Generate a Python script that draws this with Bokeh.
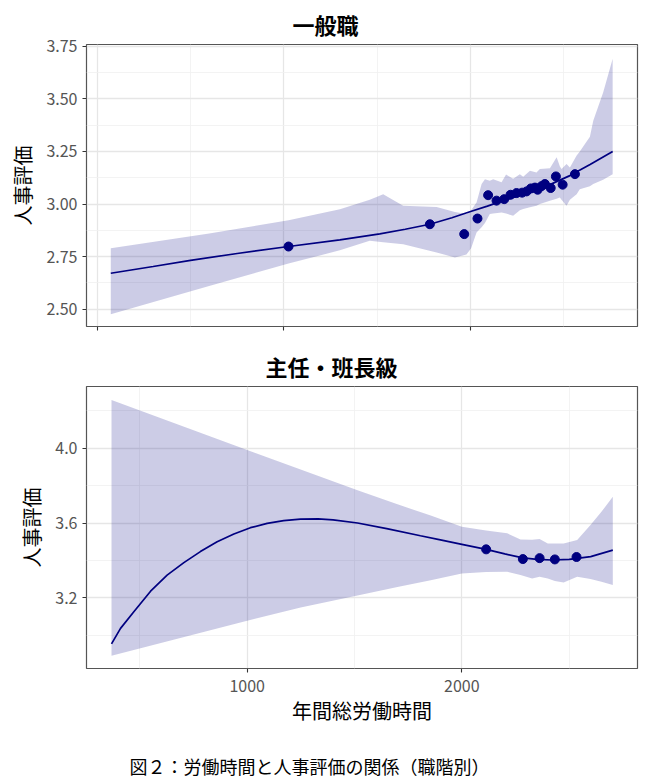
from bokeh.plotting import figure
from bokeh.models import Range1d, FixedTicker, Title, NumeralTickFormatter
from bokeh.layouts import column
from bokeh.embed import file_html
from bokeh.resources import INLINE

JP = "Noto Sans CJK JP"

# ---------------- 一般職 (top panel) ----------------
gen_hours = [1025, 1782, 1966, 2037, 2094, 2139, 2180, 2214, 2246, 2276,
             2300, 2323, 2345, 2359, 2380, 2398, 2429, 2457, 2493, 2559]
gen_score = [2.798, 2.904, 2.857, 2.931, 3.042, 3.016, 3.023, 3.044, 3.052, 3.054,
             3.060, 3.074, 3.078, 3.068, 3.085, 3.095, 3.076, 3.131, 3.092, 3.142]

gen_fit_hours = [73, 300, 500, 750, 1025, 1300, 1514, 1650, 1782, 1900, 1996,
                 2090, 2175, 2260, 2353, 2440, 2532, 2640, 2761]
gen_fit = [2.671, 2.703, 2.732, 2.765, 2.798, 2.830, 2.858, 2.880, 2.904, 2.935, 2.963,
           2.990, 3.016, 3.040, 3.063, 3.098, 3.135, 3.188, 3.250]

gen_band_hours = [73, 600, 1025, 1300, 1460, 1532, 1639, 1818, 1916, 1978, 2003, 2032, 2059, 2077,
                  2103, 2121, 2166, 2190, 2228, 2264, 2282, 2318, 2353, 2371, 2425,
                  2461, 2478, 2487, 2514, 2532, 2568, 2585, 2639, 2657, 2710, 2761]
gen_band_upper = [2.790, 2.860, 2.923, 2.975, 3.020, 3.047, 2.992, 2.986, 2.962, 2.952, 2.970, 3.007,
                  3.095, 3.118, 3.110, 3.118, 3.103, 3.140, 3.120, 3.142, 3.130, 3.158, 3.150,
                  3.166, 3.170, 3.222, 3.180, 3.166, 3.190, 3.174, 3.230, 3.250, 3.320, 3.396,
                  3.530, 3.690]
gen_band_lower = [2.476, 2.610, 2.717, 2.780, 2.825, 2.818, 2.809, 2.770, 2.746, 2.760, 2.790, 2.865,
                  2.890, 2.910, 2.952, 2.955, 2.960, 2.955, 2.944, 2.970, 2.976, 2.985, 2.992,
                  3.000, 3.016, 3.025, 3.031, 3.020, 2.992, 3.020, 3.047, 3.070, 3.085, 3.095,
                  3.115, 3.142]

# ---------------- 主任・班長級 (bottom panel) ----------------
chief_hours = [2113, 2284, 2362, 2433, 2534]
chief_score = [3.459, 3.407, 3.412, 3.405, 3.418]

chief_fit_hours = [368, 410, 472, 550, 627, 705, 782, 860, 938, 1015, 1093, 1170, 1248,
                   1330, 1400, 1514, 1650, 1807, 1900, 2000, 2113, 2200, 2284, 2350,
                   2420, 2500, 2600, 2703]
chief_fit = [2.953, 3.036, 3.125, 3.235, 3.321, 3.388, 3.447, 3.500, 3.541, 3.575, 3.598,
             3.613, 3.621, 3.622, 3.617, 3.600, 3.570, 3.532, 3.510, 3.486, 3.459, 3.435,
             3.413, 3.405, 3.402, 3.405, 3.420, 3.455]

chief_band_hours = [368, 1000, 1249, 1514, 1700, 1855, 2000, 2113, 2211, 2273, 2327, 2362,
                    2400, 2433, 2474, 2537, 2599, 2650, 2703]
chief_band_upper = [4.259, 3.991, 3.886, 3.775, 3.700, 3.640, 3.580, 3.560, 3.545, 3.512, 3.510,
                    3.514, 3.490, 3.490, 3.490, 3.509, 3.589, 3.660, 3.741]
chief_band_lower = [2.889, 3.077, 3.148, 3.212, 3.258, 3.294, 3.330, 3.338, 3.339, 3.321, 3.303,
                    3.312, 3.303, 3.290, 3.282, 3.312, 3.300, 3.285, 3.268]

top_x_ticks = [0, 1000, 2000]
top_x_minor = [500, 1500, 2500]
top_y_ticks = [2.5, 2.75, 3.0, 3.25, 3.5, 3.75]
top_y_minor = [2.625, 2.875, 3.125, 3.375, 3.625]
bot_x_ticks = [1000, 2000]
bot_x_minor = [500, 1500, 2500]
bot_y_ticks = [3.2, 3.6, 4.0]
bot_y_minor = [3.0, 3.4, 3.8, 4.2]

NAVY = "#000080"


def make_panel(title, title_offset, xr, yr, top_border, bottom_border):
    p = figure(width=649, frame_width=551, frame_height=282,
               x_range=Range1d(*xr), y_range=Range1d(*yr),
               output_backend="svg", toolbar_location=None,
               min_border_left=86, min_border_right=12,
               min_border_top=top_border, min_border_bottom=bottom_border)
    p.title.text = title
    p.title.align = "left"
    p.title.offset = title_offset
    p.title.text_font = JP
    p.title.text_font_size = "22px"
    p.title.text_font_style = "bold"
    p.title.text_color = "#000000"
    p.background_fill_color = "white"
    p.border_fill_color = "white"
    p.outline_line_color = "#555555"
    p.outline_line_width = 1.2
    for ax in (p.xaxis[0], p.yaxis[0]):
        ax.axis_line_color = None
        ax.major_tick_line_color = "#333333"
        ax.major_tick_line_width = 1.1
        ax.major_tick_out = 4
        ax.major_tick_in = 0
        ax.minor_tick_line_color = None
        ax.major_label_text_font = JP
        ax.major_label_text_font_size = "16px"
        ax.major_label_text_color = "#555555"
        ax.axis_label_text_font = JP
        ax.axis_label_text_font_size = "20px"
        ax.axis_label_text_font_style = "normal"
        ax.axis_label_text_color = "#000000"
    for g in (p.xgrid[0], p.ygrid[0]):
        g.grid_line_color = "#E6E6E6"
        g.grid_line_width = 1.3
        g.minor_grid_line_color = "#F0F0F0"
        g.minor_grid_line_width = 0.8
    p.yaxis.axis_label = "人事評価"
    p.yaxis.axis_label_standoff = 6
    return p


p1 = make_panel("一般職", 206, (-57, 2894), (2.418, 3.758), 42, 16)
p1.xaxis.ticker = FixedTicker(ticks=top_x_ticks, minor_ticks=top_x_minor)
p1.yaxis.ticker = FixedTicker(ticks=top_y_ticks, minor_ticks=top_y_minor)
p1.yaxis.formatter = NumeralTickFormatter(format="0.00")
p1.xaxis.major_label_overrides = {t: "" for t in top_x_ticks}
p1.xaxis.major_label_standoff = 0
p1.varea(x=gen_band_hours, y1=gen_band_lower, y2=gen_band_upper,
         fill_color=NAVY, fill_alpha=0.2)
p1.line(gen_fit_hours, gen_fit, line_color=NAVY, line_width=1.7)
p1.scatter(gen_hours, gen_score, size=9, fill_color=NAVY, line_color=NAVY)

p2 = make_panel("主任・班長級", 179, (251.5, 2818), (2.821, 4.331), 43, 90)
p2.xaxis.ticker = FixedTicker(ticks=bot_x_ticks, minor_ticks=bot_x_minor)
p2.yaxis.ticker = FixedTicker(ticks=bot_y_ticks, minor_ticks=bot_y_minor)
p2.yaxis.formatter = NumeralTickFormatter(format="0.0")
p2.xaxis.axis_label = "年間総労働時間"
p2.xaxis.axis_label_standoff = 1
p2.xaxis.major_label_standoff = 7
p2.varea(x=chief_band_hours, y1=chief_band_lower, y2=chief_band_upper,
         fill_color=NAVY, fill_alpha=0.2)
p2.line(chief_fit_hours, chief_fit, line_color=NAVY, line_width=1.7)
p2.scatter(chief_hours, chief_score, size=9, fill_color=NAVY, line_color=NAVY)

spacer = Title(text=" ", text_font_size="6px")
p2.add_layout(spacer, "below")
caption = Title(text="図２：労働時間と人事評価の関係（職階別）", align="left", offset=43,
                text_font=JP, text_font_size="18px", text_font_style="normal",
                text_color="#000000")
p2.add_layout(caption, "below")

layout = column(p1, p2, spacing=0)
open("out.html", "w").write(file_html(layout, INLINE))
